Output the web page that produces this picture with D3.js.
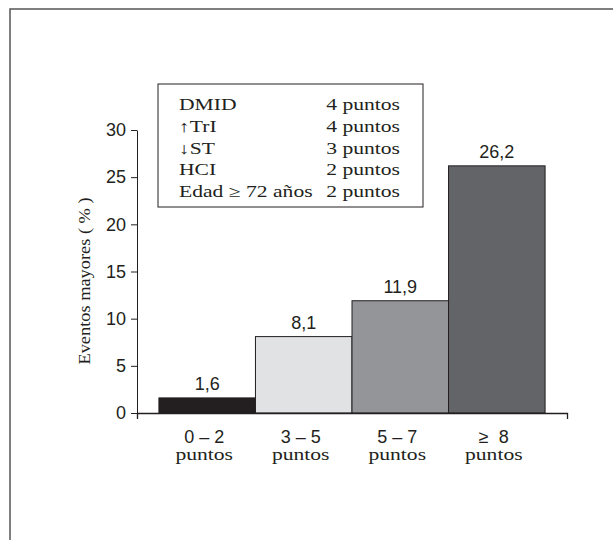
<!DOCTYPE html>
<html lang="es">
<head>
<meta charset="utf-8">
<script src="https://d3js.org/d3.v7.min.js"></script>
<style>
  body { margin: 0; background: #fff; }
  svg text { fill: #231f20; }
  .tick text, .val { font: 18px "Liberation Sans", Arial, sans-serif; }
  .ser { font: 16px "Liberation Serif", "Times New Roman", serif; }
  .ylab { font: 17px "Liberation Serif", "Times New Roman", serif; }
</style>
</head>
<body>
<script>
  // datos
  const categorias = ["0 \u2013 2", "3 \u2013 5", "5 \u2013 7", "\u2265  8"];
  const valores = [1.6, 8.1, 11.9, 26.2];
  const colores = ["#231f20", "#e1e2e4", "#939598", "#636467"];
  const yTicks = [0, 5, 10, 15, 20, 25, 30];
  const leyendaIzq = ["DMID", "\u2191TrI", "\u2193ST", "HCI", "Edad \u2265 72 a\u00f1os"];
  const leyendaDer = ["4 puntos", "4 puntos", "3 puntos", "2 puntos", "2 puntos"];

  const W = 613, H = 540;
  const ancho = 1.35; // las letras del original estan estiradas
  const svg = d3.select("body").append("svg")
    .attr("width", W).attr("height", H);

  // marco exterior
  svg.append("rect")
    .attr("x", 10).attr("y", 9)
    .attr("width", 700).attr("height", 600)
    .attr("fill", "none").attr("stroke", "#555").attr("stroke-width", 1.5);

  const x = d3.scaleBand()
    .domain(categorias)
    .range([137, 567])
    .paddingInner(0)
    .paddingOuter(0.227);

  const y = d3.scaleLinear().domain([0, 30]).range([413, 130]);

  // eje y
  const gy = svg.append("g")
    .attr("transform", "translate(137,0)")
    .call(d3.axisLeft(y).tickValues(yTicks).tickSize(6).tickSizeOuter(0).tickPadding(5));
  gy.select(".domain").attr("stroke", "#231f20");
  gy.selectAll(".tick line").attr("stroke", "#231f20");
  gy.selectAll(".tick text").attr("fill", "#231f20");

  // barras
  svg.selectAll("rect.bar")
    .data(valores)
    .enter()
    .append("rect")
    .attr("class", "bar")
    .attr("x", (d, i) => x(categorias[i]))
    .attr("y", d => y(d))
    .attr("width", x.bandwidth())
    .attr("height", d => y(0) - y(d))
    .attr("fill", (d, i) => colores[i])
    .attr("stroke", "#231f20")
    .attr("stroke-width", 1);

  svg.selectAll("text.val")
    .data(valores)
    .enter()
    .append("text")
    .attr("class", "val")
    .attr("x", (d, i) => x(categorias[i]) + x.bandwidth() / 2)
    .attr("y", d => y(d) - 8)
    .attr("text-anchor", "middle")
    .text(d => String(d).replace(".", ","));

  // eje x
  const gx = svg.append("g")
    .attr("transform", "translate(0," + y(0) + ")")
    .call(d3.axisBottom(x).tickSize(0).tickSizeOuter(6).tickFormat(""));
  gx.select(".domain").attr("stroke", "#231f20").attr("stroke-width", 1.3);

  const xl = svg.append("g").selectAll("g")
    .data(categorias)
    .enter()
    .append("g")
    .attr("transform", d => "translate(" + (x(d) + x.bandwidth() / 2 - 3) + ",0)");
  xl.append("text")
    .attr("class", "val")
    .attr("y", 443)
    .attr("text-anchor", "middle")
    .style("white-space", "pre")
    .text(d => d);
  xl.append("text")
    .attr("class", "ser")
    .attr("transform", "translate(0,460) scale(" + ancho + ",1)")
    .attr("text-anchor", "middle")
    .text("puntos");

  // titulo eje y
  svg.append("text")
    .attr("class", "ylab")
    .attr("transform", "translate(90,281) rotate(-90) scale(1.08,1)")
    .attr("text-anchor", "middle")
    .text("Eventos mayores ( % )");

  // leyenda
  svg.append("rect")
    .attr("x", 158).attr("y", 84)
    .attr("width", 265).attr("height", 123)
    .attr("fill", "#fff").attr("stroke", "#231f20").attr("stroke-width", 1);

  const filaY = d3.scaleLinear().domain([0, 4]).range([110, 197]);

  svg.selectAll("text.li")
    .data(leyendaIzq)
    .enter()
    .append("text")
    .attr("class", "li ser")
    .attr("transform", (d, i) => "translate(179," + filaY(i) + ") scale(" + ancho + ",1)")
    .text(d => d);

  svg.selectAll("text.ld")
    .data(leyendaDer)
    .enter()
    .append("text")
    .attr("class", "ld ser")
    .attr("transform", (d, i) => "translate(400," + filaY(i) + ") scale(" + ancho + ",1)")
    .attr("text-anchor", "end")
    .text(d => d);
</script>
</body>
</html>
